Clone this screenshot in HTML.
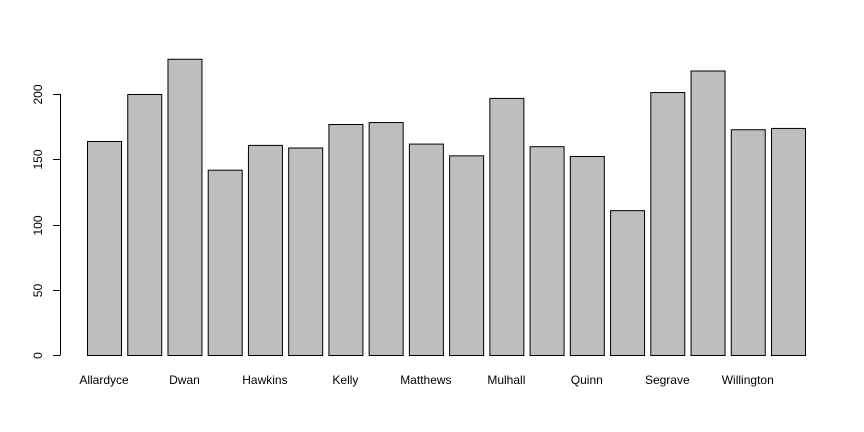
<!DOCTYPE html>
<html><head><meta charset="utf-8"><style>
html,body{margin:0;padding:0;background:#fff;}
svg{display:block;font-family:"Liberation Sans",sans-serif;}
</style></head><body>
<svg id="chart" width="864" height="432" viewBox="0 0 864 432"></svg>
<script>
const categories = ["Allardyce","Brennan","Dwan","Fahey","Hawkins","Jordan","Kelly","Lynch","Matthews","Molloy","Mulhall","O'Brien","Quinn","Ryan","Segrave","Walsh","Willington","Wright"];
const values = [164,200,227,142,161,159,177,178.5,162,153,197,160,152.5,111,201.5,218,173,174];
const yTicks = [0,50,100,150,200];

const svg = document.getElementById('chart');
const NS = 'http://www.w3.org/2000/svg';
function y(v){ return 355 - v * 261/200; }
function xLeft(i){ return 87 + i * (684/17); }
const bw = 34;
function mk(tag, attrs){ const e = document.createElementNS(NS, tag); for (const k in attrs) e.setAttribute(k, attrs[k]); svg.appendChild(e); return e; }

values.forEach((v,i)=>{
  const r = mk('rect',{x:xLeft(i)+0.5,y:y(v)+0.5,width:bw,height:y(0)-y(v),fill:'#bebebe',stroke:'#000','stroke-width':1});
  
  
});
categories.forEach((c,i)=>{
  if (i % 2 !== 0) return;
  const t = mk('text',{x:xLeft(i)+bw/2,y:384,'text-anchor':'middle','font-size':12,fill:'#000'});
  t.textContent = c;
  
  
});
const ax = mk('line',{x1:60.5,x2:60.5,y1:y(yTicks[0]),y2:y(yTicks[yTicks.length-1]),stroke:'#000'});


yTicks.forEach(t=>{
  const yy = Math.round(y(t))+0.5;
  const l = mk('line',{x1:53,x2:60.5,y1:yy,y2:yy,stroke:'#000'});
  
  
  const tx = mk('text',{x:42,y:yy,'text-anchor':'middle','font-size':12,fill:'#000',transform:'rotate(-90 42 '+yy+')'});
  tx.textContent = t;
  
  
});
</script>
</body></html>
